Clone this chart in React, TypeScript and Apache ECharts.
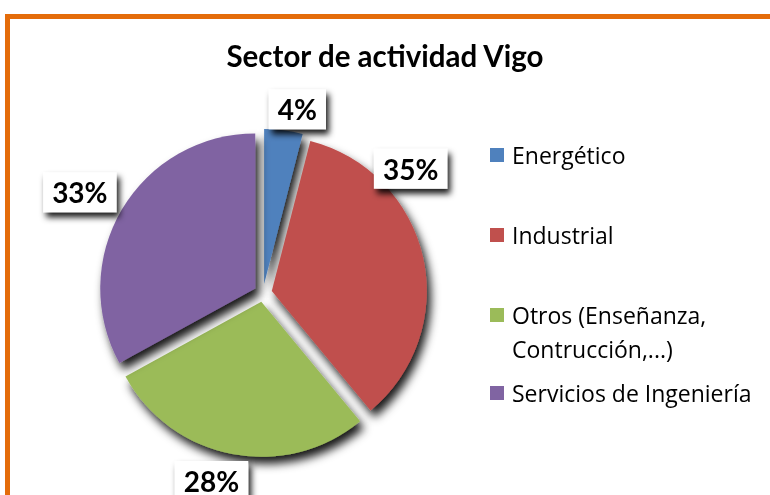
import React, { useEffect, useRef } from "react";
import * as echarts from "echarts";

const titleText = "Sector de actividad Vigo";
const categories = [
  "Energético",
  "Industrial",
  "Otros (Enseñanza, Contrucción,...)",
  "Servicios de Ingeniería",
];
const percents = [4, 35, 28, 33];
const colors = ["#4F81BD", "#C0504D", "#9BBB59", "#8064A2"];

export default function App() {
  const ref = useRef<HTMLDivElement>(null);
  useEffect(() => {
    if (!ref.current) return;
    const chart = echarts.init(ref.current, undefined, { renderer: "svg" });
    const font = "Lato";
    const legendFont = "Open Sans";
    const legendTops = [141, 221, 301, 379];
    const cx = 263;
    const cy = 293;
    // label placement (same order as categories): distance from pie centre and angle tweak (deg) from slice mid-angle
    const labelDist = [187, 193, 195, 209];
    const labelTweak = [3.4, -27.5, 4.5, -1.8];
    const total = percents.reduce((a, b) => a + b, 0);
    const midAngles: number[] = [];
    let acc = 0;
    percents.forEach((v) => {
      midAngles.push(((acc + v / 2) / total) * 360);
      acc += v;
    });
    const legends = categories.map((c, i) => ({
      orient: "vertical",
      left: 490,
      top: legendTops[i],
      padding: 0,
      itemWidth: 14,
      itemHeight: 14,
      icon: "rect",
      data: [c],
      selectedMode: false,
      formatter: (n: string) => (n.indexOf("Otros") === 0 ? "Otros (Enseñanza," : n),
      textStyle: { fontFamily: legendFont, fontSize: 23, color: "#000", lineHeight: 28, padding: [0, 0, 0, 3] },
    }));
    chart.setOption({
      animation: false,
      color: colors,
      title: {
        text: titleText,
        left: "center",
        top: 35,
        textStyle: { fontFamily: font, fontSize: 29.5, fontWeight: "bold", color: "#000" },
      },
      legend: legends,
      graphic: [
        {
          type: "rect",
          shape: { x: 7.5, y: 16.5, width: 900, height: 700 },
          style: { fill: "none", stroke: "#E46C0A", lineWidth: 5 },
          silent: true,
        },
        {
          type: "text",
          x: 512,
          y: 349,
          style: {
            text: "Contrucción,...)",
            font: `23px "${legendFont}"`,
            fill: "#000",
            verticalAlign: "middle",
          },
          silent: true,
        },
      ],
      series: [
        {
          type: "pie",
          center: [cx, cy],
          radius: 155,
          startAngle: 90,
          clockwise: true,
          selectedMode: "multiple",
          selectedOffset: 9,
          emphasis: { disabled: true },
          itemStyle: {
            shadowBlur: 10,
            shadowColor: "rgba(0,0,0,0.9)",
            shadowOffsetX: 4,
            shadowOffsetY: 7,
          },
          label: { show: false },
          labelLine: { show: false },
          data: categories.map((c, i) => ({ name: c, value: percents[i], selected: true })),
        },
        {
          type: "pie",
          center: [cx, cy],
          radius: 155,
          startAngle: 90,
          clockwise: true,
          silent: true,
          selectedMode: false,
          emphasis: { disabled: true },
          itemStyle: { color: "rgba(0,0,0,0)", borderWidth: 0 },
          label: {
            show: true,
            position: "outside",
            formatter: "{c}%",
            fontFamily: font,
            fontSize: 28,
            fontWeight: "bold",
            color: "#000",
            backgroundColor: "#fff",
            padding: [7, 9, 5, 9],
            shadowColor: "rgba(0,0,0,0.9)",
            shadowBlur: 6,
            shadowOffsetX: 3,
            shadowOffsetY: 5,
          },
          labelLine: { show: false, length: 15, length2: 0 },
          labelLayout: (p: any) => {
            const i = p.dataIndex;
            const a = ((midAngles[i] + labelTweak[i]) * Math.PI) / 180;
            return {
              x: cx + labelDist[i] * Math.sin(a),
              y: cy - labelDist[i] * Math.cos(a),
              align: "center",
              verticalAlign: "middle",
            };
          },
          data: categories.map((c, i) => ({ name: c, value: percents[i] })),
        },
      ],
    });
    return () => chart.dispose();
  }, []);
  return <div ref={ref} style={{ position: "fixed", left: 0, top: 0, width: 770, height: 495 }} />;
}
